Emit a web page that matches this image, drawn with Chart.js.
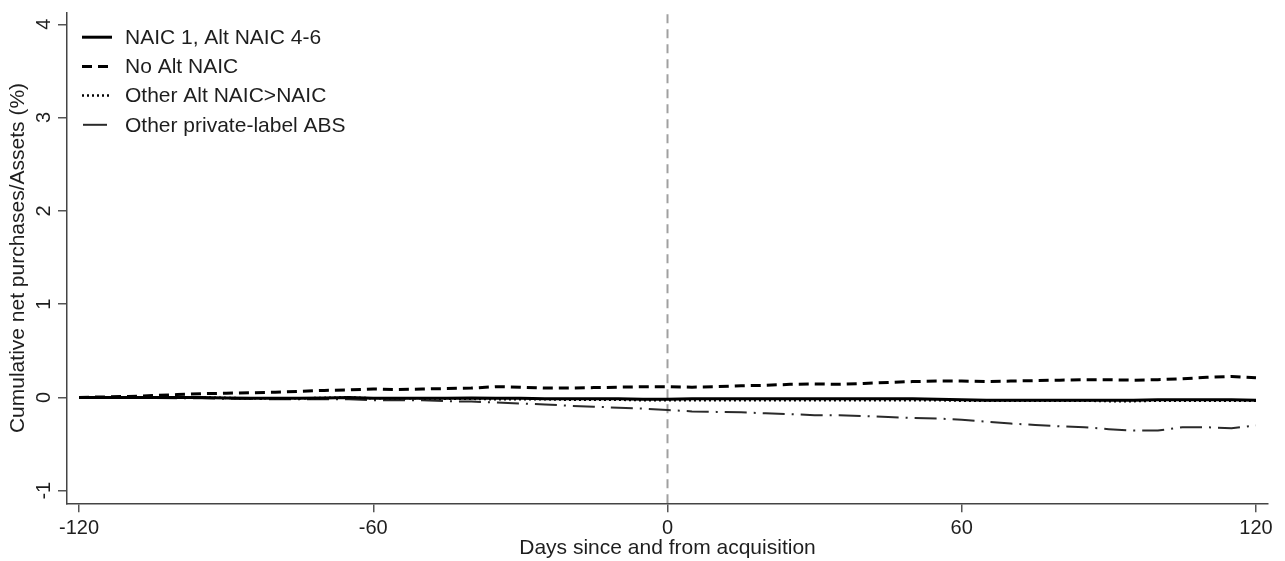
<!DOCTYPE html>
<html><head><meta charset="utf-8">
<script src="https://cdn.jsdelivr.net/npm/chart.js@4.4.0/dist/chart.umd.min.js"></script>
<style>html,body{margin:0;padding:0;background:#fff;}#wrap{width:1285px;height:561px;}</style>
</head><body><div id="wrap"><canvas id="c" width="1285" height="561"></canvas></div>
<script>
// Days relative to acquisition (sampled every 5 days)
const days = [-120,-115,-110,-105,-100,-95,-90,-85,-80,-75,-70,-65,-60,-55,-50,-45,-40,-35,-30,-25,-20,-15,-10,-5,0,5,10,15,20,25,30,35,40,45,50,55,60,65,70,75,80,85,90,95,100,105,110,115,120];
const naic1Alt46 = [0,0,0,0,0,0,-0.005,-0.01,-0.01,-0.01,-0.005,0,-0.01,-0.01,-0.01,-0.01,-0.005,-0.01,-0.01,-0.015,-0.015,-0.015,-0.015,-0.02,-0.02,-0.015,-0.015,-0.015,-0.015,-0.015,-0.015,-0.015,-0.015,-0.015,-0.015,-0.02,-0.025,-0.03,-0.03,-0.03,-0.03,-0.03,-0.03,-0.03,-0.025,-0.025,-0.025,-0.025,-0.03];
const noAltNaic = [0,0.005,0.01,0.02,0.03,0.04,0.045,0.05,0.055,0.065,0.075,0.08,0.09,0.085,0.09,0.095,0.10,0.115,0.11,0.10,0.10,0.105,0.11,0.115,0.115,0.11,0.115,0.125,0.13,0.14,0.145,0.14,0.15,0.16,0.17,0.175,0.175,0.17,0.175,0.18,0.185,0.19,0.19,0.185,0.19,0.20,0.215,0.225,0.21];
const otherAltGtNaic = [0,0,0,0,0,0,-0.005,-0.01,-0.01,-0.01,-0.005,0,-0.01,-0.01,-0.01,-0.015,-0.015,-0.02,-0.02,-0.02,-0.025,-0.025,-0.025,-0.03,-0.03,-0.03,-0.03,-0.03,-0.03,-0.03,-0.03,-0.03,-0.03,-0.03,-0.03,-0.03,-0.035,-0.035,-0.035,-0.035,-0.035,-0.035,-0.04,-0.04,-0.035,-0.035,-0.035,-0.035,-0.035];
const otherPrivateAbs = [0,0,-0.005,-0.005,-0.01,-0.01,-0.015,-0.015,-0.02,-0.02,-0.02,-0.02,-0.03,-0.03,-0.03,-0.04,-0.045,-0.055,-0.065,-0.075,-0.09,-0.10,-0.11,-0.12,-0.135,-0.15,-0.155,-0.16,-0.17,-0.18,-0.19,-0.19,-0.20,-0.21,-0.22,-0.225,-0.24,-0.26,-0.28,-0.295,-0.31,-0.32,-0.34,-0.355,-0.355,-0.32,-0.32,-0.33,-0.30];
const seriesLabels = ['NAIC 1, Alt NAIC 4-6','No Alt NAIC','Other Alt NAIC>NAIC','Other private-label ABS'];
const xTicks = [-120,-60,0,60,120];
const yTicks = [-1,0,1,2,3,4];
const eventDay = [0];

const X_MIN = -122.45, X_MAX = 122.45, Y_MIN = -1.135, Y_MAX = 4.124;
const FONT = "Arial, 'Liberation Sans', sans-serif";
const TXT = '#1e1e1e';

function pts(arr){ return days.map((d,i)=>({x:d,y:arr[i]})); }

const styles = [
  {borderColor:'#000', borderWidth:3, borderDash:[]},
  {borderColor:'#000', borderWidth:3, borderDash:[10,6]},
  {borderColor:'#000', borderWidth:2.5, borderDash:[2,3]},
  {borderColor:'#2a2a2a', borderWidth:2, borderDash:[22,7,2,7]}
];
const seriesData = [naic1Alt46, noAltNaic, otherAltGtNaic, otherPrivateAbs];

const datasets = seriesData.map((arr,i)=>Object.assign({
  label: seriesLabels[i], data: pts(arr), pointRadius:0, tension:0, fill:false,
  borderJoinStyle:'round', order: i+1
}, styles[i]));
datasets.push({
  label:'event', data:[{x:eventDay[0],y:Y_MIN},{x:eventDay[0],y:Y_MAX}],
  borderColor:'#a0a0a0', borderWidth:2, borderDash:[9,6], pointRadius:0, order:10
});

// Stata-style rotated y tick labels, placed through the y scale
const yLabelPlugin = {
  id:'yRotLabels',
  afterDraw(chart){
    const ctx = chart.ctx, ys = chart.scales.y;
    ctx.save();
    ctx.font = '20px ' + FONT;
    ctx.fillStyle = TXT;
    ctx.textAlign = 'center';
    ctx.textBaseline = 'middle';
    yTicks.forEach(v=>{
      const py = ys.getPixelForValue(v);
      ctx.save();
      ctx.translate(ys.right - 23, py);
      ctx.rotate(-Math.PI/2);
      ctx.fillText(String(v), 0, 0);
      ctx.restore();
    });
    ctx.restore();
  }
};

const legendPlugin = {
  id:'insideLegend',
  afterDraw(chart){
    const ctx = chart.ctx, ca = chart.chartArea;
    const x0 = ca.left + 15, y0 = ca.top + 24.5, step = 29.2;
    ctx.save();
    ctx.font = '21px ' + FONT;
    ctx.textBaseline = 'middle';
    ctx.fillStyle = TXT;
    for (let i=0;i<4;i++){
      const ds = chart.data.datasets[i];
      const y = y0 + i*step;
      ctx.beginPath();
      ctx.strokeStyle = ds.borderColor;
      ctx.lineWidth = ds.borderWidth;
      if (i===3){ ctx.setLineDash([]); ctx.moveTo(x0+1,y); ctx.lineTo(x0+25,y); }
      else { ctx.setLineDash(ds.borderDash); ctx.moveTo(x0,y); ctx.lineTo(x0+30,y); }
      ctx.stroke();
      ctx.setLineDash([]);
      ctx.fillText(ds.label, x0+43, y+1);
    }
    ctx.restore();
  }
};

new Chart(document.getElementById('c'), {
  type:'line',
  data:{datasets},
  options:{
    responsive:false, animation:false, devicePixelRatio:1,
    layout:{padding:{left:0,right:17,top:12.7,bottom:0}},
    plugins:{legend:{display:false}, tooltip:{enabled:false}},
    scales:{
      x:{
        type:'linear', min:X_MIN, max:X_MAX,
        afterBuildTicks(s){ s.ticks = xTicks.map(v=>({value:v})); },
        afterFit(s){ s.height = 57.7; },
        grid:{drawOnChartArea:false, drawTicks:true, tickLength:9, color:'#555', lineWidth:1.5},
        border:{display:true, color:'#444', width:1.5},
        ticks:{font:{size:20, family:FONT}, color:TXT, padding:4, maxRotation:0, autoSkip:false},
        title:{display:true, text:'Days since and from acquisition', font:{size:21, family:FONT}, color:TXT, padding:{top:0,bottom:0}}
      },
      y:{
        type:'linear', min:Y_MIN, max:Y_MAX,
        afterBuildTicks(s){ s.ticks = yTicks.map(v=>({value:v})); },
        afterFit(s){ s.width = 67; },
        grid:{drawOnChartArea:false, drawTicks:true, tickLength:9, color:'#555', lineWidth:1.5},
        border:{display:true, color:'#444', width:1.5},
        ticks:{display:false},
        title:{display:true, text:'Cumulative net purchases/Assets (%)', font:{size:21, family:FONT}, color:TXT, padding:{top:6,bottom:0}}
      }
    }
  },
  plugins:[legendPlugin, yLabelPlugin]
});
</script></body></html>
